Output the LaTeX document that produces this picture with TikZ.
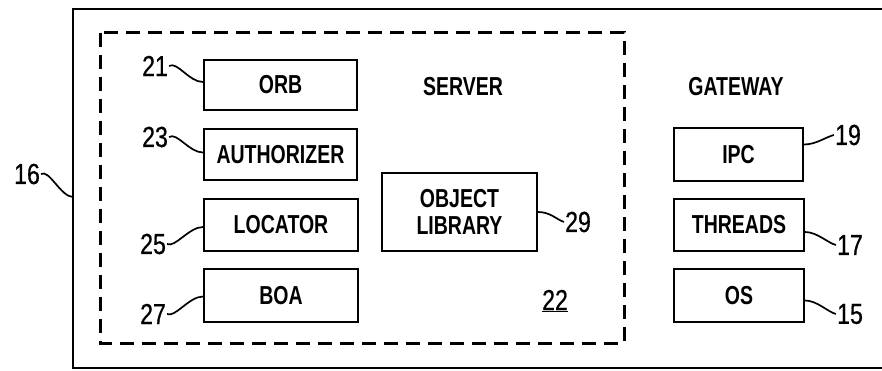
\documentclass[tikz,border=0pt]{standalone}
\usepackage{fontspec}
\setmainfont{Liberation Sans}
\newfontfamily\boxfont{Liberation Sans Bold}[FakeStretch=0.75]
\newfontfamily\numfont{Liberation Sans}[FakeStretch=0.8,FakeBold=0.6]
\begin{document}
\begin{tikzpicture}[x=1pt,y=-1pt,
  box/.style={draw,line width=2pt,inner sep=0pt,font=\boxfont\fontsize{26}{27}\selectfont,align=center},
  lbl/.style={inner sep=1pt,font=\numfont\fontsize{29}{29}\selectfont},
  txt/.style={inner sep=0pt,font=\boxfont\fontsize{26}{26}\selectfont},
  sq/.style={line width=1.7pt}]
\useasboundingbox (0,0) rectangle (882,371);
% outer (open on the right)
\coordinate (otr) at (882,9);
\coordinate (otl) at (73,9);
\coordinate (obl) at (73,368);
\coordinate (obr) at (882,368);
\draw[line width=2.2pt] (otr) -- (otl) -- (obl) -- (obr);
% server dashed box
\coordinate (dtl) at (100,33);
\coordinate (dbr) at (624,343);
\draw[line width=3pt,dash pattern=on 14pt off 8pt] (dtl) rectangle (dbr);
% boxes
\node[box,minimum width=153pt,minimum height=50pt] (orb) at (280.5,85) {ORB};
\node[box,minimum width=153pt,minimum height=51pt] (auth) at (280.5,154.5) {AUTHORIZER};
\node[box,minimum width=154pt,minimum height=52pt] (loc) at (281,225) {LOCATOR};
\node[box,minimum width=154pt,minimum height=53pt] (boa) at (281,295.5) {BOA};
\node[box,minimum width=155pt,minimum height=78pt] (lib) at (459.5,212) {OBJECT\\LIBRARY};
\node[box,minimum width=129pt,minimum height=53pt] (ipc) at (738.5,154.5) {IPC};
\node[box,minimum width=130pt,minimum height=52pt] (thr) at (739,225) {THREADS};
\node[box,minimum width=130pt,minimum height=53pt] (os) at (739,295.5) {OS};
% titles
\node[txt] (server) at (463,87) {SERVER};
\node[txt] (gateway) at (736,87) {GATEWAY};
\node[inner sep=0pt,font=\numfont\fontsize{29}{29}\selectfont] (n22) at (555,301) {\underline{22}};
% labels
\node[lbl] (l21) at (155,66) {21};
\node[lbl] (l23) at (155,137) {23};
\node[lbl] (l25) at (153,244) {25};
\node[lbl] (l27) at (153,314) {27};
\node[lbl] (l16) at (27,174) {16};
\node[lbl] (l29) at (578,222) {29};
\node[lbl] (l19) at (848,135) {19};
\node[lbl] (l17) at (850,245) {17};
\node[lbl] (l15) at (850,314) {15};
% squiggles
\draw[sq] (l21.east) .. controls +(8,-5) and +(-14,0) .. ([yshift=3pt]orb.west);
\draw[sq] (l23.east) .. controls +(8,-5) and +(-14,0) .. ([yshift=2pt]auth.west);
\draw[sq] (l25.east) .. controls +(8,4) and +(-14,0) .. ([yshift=-2pt]loc.west);
\draw[sq] (l27.east) .. controls +(8,4) and +(-14,0) .. ([yshift=-1pt]boa.west);
\draw[sq] (l16.east) .. controls +(8,-5) and +(-12,0) .. ([yshift=-188pt]otl);
\draw[sq] (lib.east) .. controls +(12,0) and +(-8,-3) .. (l29.west);
\draw[sq] ([yshift=10pt]ipc.east) .. controls +(12,0) and +(-8,2) .. (l19.west);
\draw[sq] ([yshift=-7pt]thr.east) .. controls +(12,0) and +(-8,-2) .. (l17.west);
\draw[sq] ([yshift=-5pt]os.east) .. controls +(12,0) and +(-8,-2) .. (l15.west);
\end{tikzpicture}
\end{document}
